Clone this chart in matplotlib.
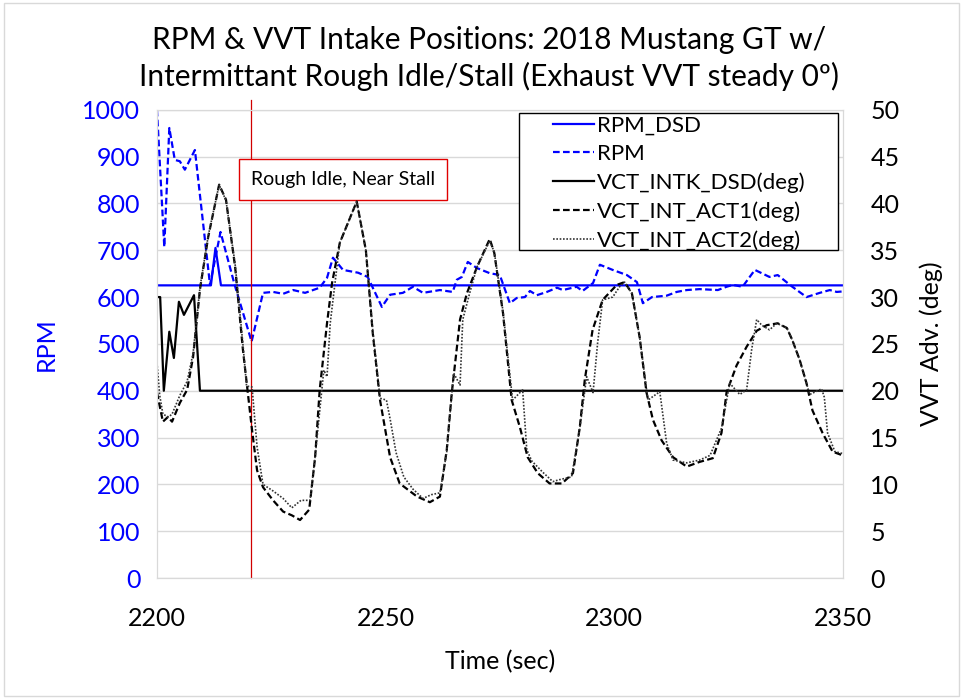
import matplotlib
matplotlib.use('Agg')
import matplotlib.pyplot as plt
import matplotlib.transforms as mtransforms
import numpy as np

plt.rcParams['font.family'] = ['Lato', 'DejaVu Sans']

# RPM_DSD (desired idle speed)
t_rpm_dsd = [2200, 2211.8, 2212.8, 2214, 2350]
rpm_dsd = [625, 625, 705, 625, 625]

# RPM (actual)
t_rpm = [2200, 2201.6, 2202.7, 2203.9, 2205, 2206.1, 2208.3, 2211.6, 2213.9, 2217,
         2220.7, 2223.2, 2225.4, 2227.6, 2229.8, 2232.4, 2235.6, 2237.2, 2238.5, 2240.7,
         2244, 2246.1, 2249.2, 2251, 2253.8, 2256, 2258.2, 2261.9, 2264.7, 2265.6,
         2266.7, 2268, 2270, 2272.8, 2275, 2277.2, 2278.7, 2280.5, 2281.6, 2283.1,
         2285.3, 2287.5, 2288.8, 2291.8, 2293.1, 2295.4, 2296.9, 2299.7, 2302.8, 2305,
         2306.3, 2308.3, 2311.5, 2313.7, 2315.9, 2318.7, 2322.7, 2324.6, 2326, 2328.1,
         2330.8, 2334, 2335.8, 2339, 2342.1, 2345, 2347.2, 2348.7, 2350]
rpm = [1000, 707, 961, 893, 890, 872, 914, 626, 739, 626,
       505, 609, 611, 607, 615, 609, 620, 641, 684, 658,
       652, 643, 579, 605, 609, 622, 609, 615, 611, 637,
       643, 675, 662, 651, 647, 587, 598, 600, 613, 604,
       611, 620, 615, 622, 613, 630, 669, 658, 647, 632,
       587, 600, 603, 611, 615, 617, 615, 622, 626, 622,
       658, 643, 647, 622, 600, 609, 615, 611, 612]

# VCT_INTK_DSD (deg)
t_dsd = [2200, 2200.7, 2201.5, 2202.7, 2203.7, 2204.8, 2205.9, 2208.1, 2209.4, 2350]
vct_dsd = [30, 30, 20, 26.3, 23.5, 29.5, 28.1, 30.2, 20, 20]

# VCT_INT_ACT1 (deg)
t_act1 = [2200, 2201.3, 2202.4, 2203.3, 2205, 2206.6, 2207.9, 2209.4, 2211.2, 2213.6,
          2215.1, 2217.1, 2218.8, 2220.8, 2221.9, 2223.2, 2225.4, 2227.6, 2229.5, 2231.3,
          2233.3, 2234.6, 2235.6, 2237.2, 2238.3, 2240, 2243.7, 2245.7, 2247.2, 2248.8,
          2251, 2253.1, 2256.9, 2259.7, 2261.9, 2263.4, 2264.5, 2266.3, 2267.8, 2270,
          2272.8, 2273.8, 2275.7, 2277.6, 2279.4, 2281.1, 2283.3, 2285.9, 2288.6, 2291,
          2292.5, 2293.6, 2295.3, 2297.5, 2300.6, 2302.3, 2303.9, 2305.6, 2307.1, 2308.5,
          2310.4, 2312.9, 2315.9, 2318.7, 2321.6, 2323.5, 2324.6, 2326.8, 2329, 2331.2,
          2333.4, 2335.8, 2337.8, 2339, 2340.6, 2342.1, 2343.4, 2345.6, 2347.8, 2350]
act1 = [19.8, 16.7, 17.2, 16.7, 18.7, 20.1, 23.6, 30.8, 36.4, 42,
        40.4, 33.2, 24.4, 15.8, 11.5, 9.7, 8.3, 7.1, 6.7, 6.2,
        7.3, 12.9, 20.1, 27.2, 31.5, 35.8, 40.2, 35, 26.2, 19,
        12.9, 10.1, 8.7, 8.1, 8.7, 13.7, 19.8, 27.6, 30.4, 33.2,
        36.2, 34.7, 28.3, 19, 16.1, 12.9, 11.2, 10.1, 10.1, 11.2,
        16.1, 21.2, 26.5, 29.7, 31.3, 31.6, 30.4, 25.7, 19.8, 16.9,
        14.7, 12.9, 11.9, 12.4, 12.8, 15.5, 19.8, 22.7, 24.7, 26.4,
        27, 27.2, 26.7, 25.4, 23.3, 20.8, 17.9, 15.5, 13.5, 13.1]

# VCT_INT_ACT2 (deg)
t_act2 = [2200, 2200.6, 2201.3, 2202.5, 2203.3, 2205, 2206.6, 2207.9, 2209.4, 2211.2,
          2213.6, 2215.1, 2217.1, 2218.8, 2219.6, 2220.8, 2221.9, 2223.2, 2225.4, 2227.6,
          2229.5, 2231.5, 2233.5, 2234.6, 2236.5, 2237.2, 2237.9, 2240, 2243.7, 2245.7,
          2247.2, 2248.8, 2250.2, 2251, 2252.3, 2254, 2256, 2258.2, 2260, 2261.9,
          2263.4, 2264.9, 2266.3, 2266.9, 2268.4, 2270, 2272.8, 2273.8, 2275.7, 2277.8,
          2280, 2280.9, 2282, 2284.4, 2286.6, 2288, 2290.7, 2292.5, 2294, 2295.4,
          2296.4, 2297.5, 2299.7, 2301.2, 2302.3, 2303.9, 2305.6, 2307.4, 2310, 2311.5,
          2312.9, 2315.9, 2318.7, 2321, 2323.5, 2325.3, 2327.5, 2329, 2330.1, 2331.2,
          2332.3, 2334, 2335.6, 2337.8, 2339, 2340.6, 2342.8, 2345.4, 2346, 2346.7,
          2348.3, 2350]
act2 = [23, 19.5, 17.5, 17.2, 17.5, 19.5, 21, 24, 31, 36.5,
        42, 40.3, 33.5, 25, 20.5, 20.4, 14, 10, 9.3, 8.5,
        7.5, 8.3, 8.3, 13, 22.2, 21.5, 27.2, 35.8, 40.2, 35,
        26.5, 19.2, 19, 17, 13.4, 10.8, 9.5, 8.5, 8.9, 9.1,
        13.5, 21.9, 20.6, 27.6, 30.4, 33.2, 36, 34.8, 28.5, 19,
        20.1, 13.7, 12.5, 11.3, 10.3, 10.5, 10.8, 16, 21.5, 19.8,
        25.1, 29.7, 30, 31.1, 31.6, 30.4, 25.7, 19, 19.9, 14.4,
        12.6, 12.3, 12.6, 13.1, 16, 20.8, 19.6, 20.1, 24.4, 27.6,
        27, 26.5, 27.2, 26.7, 25.4, 23.3, 19.6, 20.2, 19.3, 15.5,
        13.5, 13.3]

stall_time = 2220.6

fig = plt.figure(figsize=(9.63, 6.99), dpi=100)
ax = fig.add_axes([0.163, 0.173, 0.712, 0.670])
ax2 = ax.twinx()

grey = '#d9d9d9'
ax.plot(t_rpm_dsd, rpm_dsd, color='#0000ff', lw=1.6, label='RPM_DSD')
ax.plot(t_rpm, rpm, color='#0000ff', lw=1.6, dashes=(3, 1.5), label='RPM')
ax2.plot(t_dsd, vct_dsd, color='black', lw=1.6, label='VCT_INTK_DSD(deg)')
ax2.plot(t_act1, act1, color='black', lw=1.6, dashes=(3, 1.5), label='VCT_INT_ACT1(deg)')
ax2.plot(t_act2, act2, color='#333333', lw=1.2, dashes=(1, 1), label='VCT_INT_ACT2(deg)')

# stall marker line
trans = mtransforms.blended_transform_factory(ax.transData, ax.transAxes)
ax.plot([stall_time, stall_time], [0, 1.02], color='#d00000', lw=0.9,
        transform=trans, clip_on=False)

ax.set_xlim(2200, 2350)
ax.set_ylim(0, 1000)
ax2.set_ylim(0, 50)
ax.set_xticks(np.arange(2200, 2351, 50))
ax.set_yticks(np.arange(0, 1001, 100))
ax2.set_yticks(np.arange(0, 51, 5))
ax.grid(axis='y', color=grey, lw=1)
ax.set_axisbelow(True)

for a in (ax, ax2):
    for s in a.spines.values():
        s.set_color(grey)
ax.tick_params(axis='y', length=0, pad=12, labelsize=18, labelcolor='#0000ff')
ax.tick_params(axis='x', length=0, pad=21, labelsize=18)
ax2.tick_params(axis='y', length=0, pad=20, labelsize=18)

ax.set_ylabel('RPM', fontsize=18, color='#0000ff', labelpad=18)
ax2.set_ylabel('VVT Adv. (deg)', fontsize=18, labelpad=14)
ax.set_xlabel('Time (sec)', fontsize=18, labelpad=14)

ax.text(0.271, 0.851, 'Rough Idle, Near Stall', transform=ax.transAxes,
        ha='center', va='center', fontsize=14, zorder=5,
        bbox=dict(boxstyle='square,pad=0.6', fc='white', ec='#e00000', lw=1))

# legend frame drawn separately so it can be wider than its contents
ax2.add_patch(plt.Rectangle((0.528, 0.701), 0.465, 0.293, transform=ax2.transAxes,
                            fc='white', ec='black', lw=1, zorder=4, clip_on=False))
h1, l1 = ax.get_legend_handles_labels()
h2, l2 = ax2.get_legend_handles_labels()
leg = ax2.legend(h1 + h2, l1 + l2, loc='upper left', bbox_to_anchor=(0.578, 0.987),
                 fontsize=16, frameon=False, borderaxespad=0, borderpad=0,
                 handlelength=1.85, handletextpad=0.1, labelspacing=0.37)
leg.set_zorder(6)

fig.text(0.508, 0.943, 'RPM & VVT Intake Positions: 2018 Mustang GT w/',
         ha='center', va='center', fontsize=21.5)
fig.text(0.508, 0.890, 'Intermittant Rough Idle/Stall (Exhaust VVT steady 0º)',
         ha='center', va='center', fontsize=21.5)

fig.patches.append(plt.Rectangle((0.004, 0.004), 0.992, 0.992, transform=fig.transFigure,
                                 fill=False, ec=grey, lw=1))

fig.savefig('out.png', dpi=100)
